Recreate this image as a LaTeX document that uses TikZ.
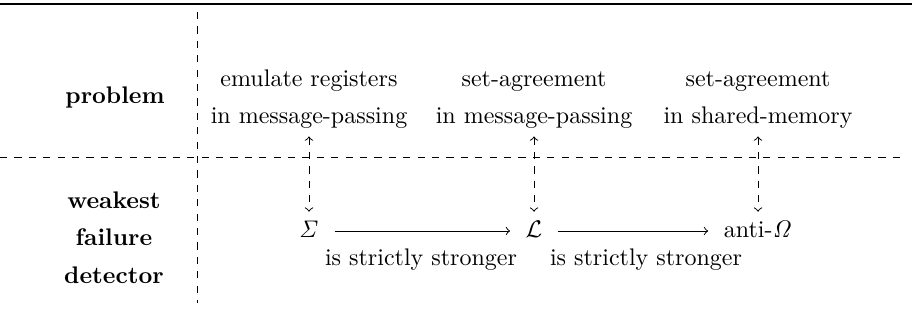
\documentclass[tikz,border=0pt]{standalone}
\begin{document}
\begin{tikzpicture}[x=0.41667pt,y=-0.41667pt,
  lbl/.style={font=\bfseries, anchor=base},
  txt/.style={anchor=base},
  fd/.style={anchor=base, text height=7pt, text depth=2pt},
  sep/.style={dashed, line width=0.4pt},
  dbl/.style={dashed, <->, line width=0.4pt},
  stronger/.style={->, line width=0.4pt, shorten <=3pt, shorten >=3pt}]
\useasboundingbox (0,0) rectangle (912,330);
\draw[line width=0.8pt] (0,4) -- (912,4);
\draw[sep] (197,12) -- (197,303);
\draw[sep] (0,157) -- (905,157);

\node[lbl] (prob) at (115,103) {problem};
\node[lbl] (wk) at (114,208) {weakest};
\node[lbl] (fl) at (114,245) {failure};
\node[lbl] (dt) at (114,283) {detector};

\node[txt] (a1) at (309,86) {emulate registers};
\node[txt] (a2) at (309,123) {in message-passing};
\node[txt] (b1) at (534,86) {set-agreement};
\node[txt] (b2) at (534,123) {in message-passing};
\node[txt] (c1) at (758,86) {set-agreement};
\node[txt] (c2) at (758,123) {in shared-memory};

\node[fd] (sig) at (309,237) {$\mathit{\Sigma}$};
\node[fd] (L) at (534,237) {$\mathcal{L}$};
\node[fd] (aO) at (758,237) {anti-$\mathit{\Omega}$};

\node[txt] (s1) at (421,265) {is strictly stronger};
\node[txt] (s2) at (646,265) {is strictly stronger};

\draw[dbl] (a2.south) -- (a2.south |- sig.north);
\draw[dbl] (b2.south) -- (b2.south |- L.north);
\draw[dbl] (c2.south) -- (c2.south |- aO.north);

\draw[stronger] (sig.east) -- (L.west);
\draw[stronger] (L.east) -- (aO.west);
\end{tikzpicture}
\end{document}
